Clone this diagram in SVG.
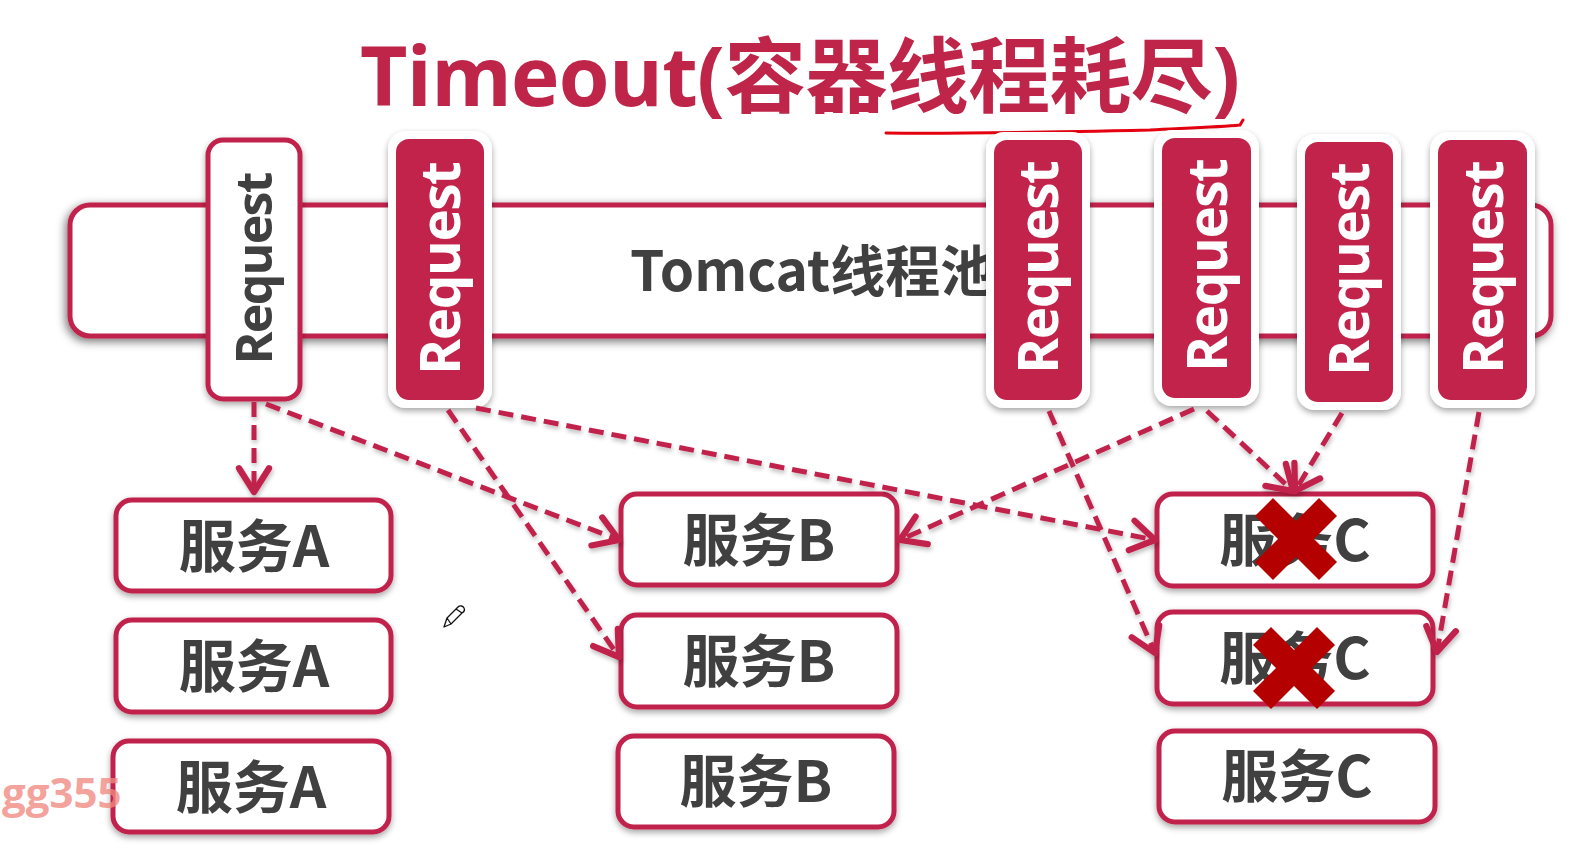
<svg xmlns="http://www.w3.org/2000/svg" width="1574" height="852" viewBox="0 0 1574 852">
<defs>
<filter id="sh" x="-20%" y="-20%" width="140%" height="140%">
<feDropShadow dx="0" dy="3" stdDeviation="3" flood-color="#000" flood-opacity="0.35"/>
</filter>
<filter id="shBig" x="-5%" y="-30%" width="110%" height="160%">
<feDropShadow dx="-2" dy="3" stdDeviation="5" flood-color="#000" flood-opacity="0.55"/>
</filter>
<filter id="shLine" x="-20%" y="-20%" width="140%" height="140%">
<feDropShadow dx="1" dy="3" stdDeviation="2" flood-color="#000" flood-opacity="0.25"/>
</filter>
<marker id="ah" markerUnits="userSpaceOnUse" markerWidth="40" markerHeight="40" viewBox="-24 -16 30 32" refX="0" refY="0" orient="auto">
<path d="M-19,-12 L0,0 L-19,12" fill="none" stroke="#c1234b" stroke-width="5" stroke-linecap="round" stroke-linejoin="round"/>
</marker>
<style>
.title{font-family:"Open Sans","Noto Sans CJK SC",sans-serif;font-weight:700;font-size:82px;fill:#bf2549}
.pool{fill:#fff;stroke:#c1234b;stroke-width:5}
.poolTxt{font-family:"Noto Sans CJK SC",sans-serif;font-weight:700;font-size:55px;fill:#404040}
.reqW{fill:#fff;stroke:#c1234b;stroke-width:5}
.reqOut{fill:#fff}
.reqIn{fill:#c1234b}
.reqTxtD{font-family:"Open Sans","Noto Sans CJK SC",sans-serif;font-weight:700;font-size:50px;fill:#404040}
.reqTxtW{font-family:"Open Sans","Noto Sans CJK SC",sans-serif;font-weight:700;font-size:55px;fill:#fff}
.svc{fill:#fff;stroke:#c1234b;stroke-width:5}
.svcTxt{font-family:"Noto Sans CJK SC",sans-serif;font-weight:700;font-size:57px;fill:#404040;text-anchor:middle}
.con{fill:none;stroke:#c1234b;stroke-width:5;stroke-dasharray:15 8}
.xm{fill:#b50000}
</style>
</defs>
<rect width="1574" height="852" fill="#fff"/>

<g id="title">
<text class="title" x="360" y="106" textLength="880">Timeout(容器线程耗尽)</text>
<path d="M886,133 C960,134 1060,132 1150,130 C1190,128 1220,127 1240,125 L1243,120" fill="none" stroke="#e5000f" stroke-width="3" stroke-linecap="round"/>
</g>

<g id="tomcat-pool">
<rect class="pool" x="70" y="205" width="1481" height="131" rx="20" filter="url(#shBig)"/>
<text class="poolTxt" x="630" y="291">Tomcat线程池</text>
</g>

<g id="request-1">
<rect class="reqW" x="208" y="140" width="92" height="259" rx="15" filter="url(#sh)"/>
<text class="reqTxtD" transform="translate(272,268) rotate(-90)" text-anchor="middle" textLength="193">Request</text>
</g>
<g id="request-2">
<rect class="reqOut" x="388" y="131" width="104" height="277" rx="18" filter="url(#sh)"/>
<rect class="reqIn" x="396" y="139" width="88" height="261" rx="13"/>
<text class="reqTxtW" transform="translate(460,268) rotate(-90)" text-anchor="middle" textLength="214">Request</text>
</g>
<g id="request-3">
<rect class="reqOut" x="986" y="132" width="104" height="276" rx="18" filter="url(#sh)"/>
<rect class="reqIn" x="994" y="140" width="88" height="260" rx="13"/>
<text class="reqTxtW" transform="translate(1058,267) rotate(-90)" text-anchor="middle" textLength="214">Request</text>
</g>
<g id="request-4">
<rect class="reqOut" x="1154" y="130" width="105" height="276" rx="18" filter="url(#sh)"/>
<rect class="reqIn" x="1162" y="138" width="89" height="260" rx="13"/>
<text class="reqTxtW" transform="translate(1227,265) rotate(-90)" text-anchor="middle" textLength="214">Request</text>
</g>
<g id="request-5">
<rect class="reqOut" x="1297" y="134" width="104" height="276" rx="18" filter="url(#sh)"/>
<rect class="reqIn" x="1305" y="142" width="88" height="260" rx="13"/>
<text class="reqTxtW" transform="translate(1369,269) rotate(-90)" text-anchor="middle" textLength="214">Request</text>
</g>
<g id="request-6">
<rect class="reqOut" x="1430" y="132" width="105" height="276" rx="18" filter="url(#sh)"/>
<rect class="reqIn" x="1438" y="140" width="89" height="260" rx="13"/>
<text class="reqTxtW" transform="translate(1503,267) rotate(-90)" text-anchor="middle" textLength="214">Request</text>
</g>

<g id="service-a1"><rect class="svc" x="116" y="500" width="275" height="91" rx="16" filter="url(#sh)"/><text class="svcTxt" x="254" y="567">服务A</text></g>
<g id="service-a2"><rect class="svc" x="116" y="620" width="275" height="92" rx="16" filter="url(#sh)"/><text class="svcTxt" x="254" y="687">服务A</text></g>
<g id="service-a3"><rect class="svc" x="113" y="741" width="276" height="91" rx="16" filter="url(#sh)"/><text class="svcTxt" x="251" y="808">服务A</text></g>
<g id="service-b1"><rect class="svc" x="621" y="494" width="276" height="91" rx="16" filter="url(#sh)"/><text class="svcTxt" x="759" y="561">服务B</text></g>
<g id="service-b2"><rect class="svc" x="621" y="615" width="276" height="92" rx="16" filter="url(#sh)"/><text class="svcTxt" x="759" y="682">服务B</text></g>
<g id="service-b3"><rect class="svc" x="618" y="736" width="276" height="91" rx="16" filter="url(#sh)"/><text class="svcTxt" x="756" y="802">服务B</text></g>
<g id="service-c1"><rect class="svc" x="1157" y="494" width="276" height="92" rx="16" filter="url(#sh)"/><text class="svcTxt" x="1295" y="561">服务C</text></g>
<g id="service-c2"><rect class="svc" x="1157" y="612" width="276" height="92" rx="16" filter="url(#sh)"/><text class="svcTxt" x="1295" y="679">服务C</text></g>
<g id="service-c3"><rect class="svc" x="1159" y="731" width="276" height="91" rx="16" filter="url(#sh)"/><text class="svcTxt" x="1297" y="797">服务C</text></g>

<g id="connectors" filter="url(#shLine)">
<path class="con" d="M254,402 L254,492" marker-end="url(#ah)"/>
<path class="con" d="M266,404 L619,540" marker-end="url(#ah)"/>
<path class="con" d="M448,410 L619,657" marker-end="url(#ah)"/>
<path class="con" d="M476,408 L1155,540" marker-end="url(#ah)"/>
<path class="con" d="M1049,411 L1155,653" marker-end="url(#ah)"/>
<path class="con" d="M1194,409 L900,540" marker-end="url(#ah)"/>
<path class="con" d="M1207,411 L1293,491" marker-end="url(#ah)"/>
<path class="con" d="M1342,413 L1295,491" marker-end="url(#ah)"/>
<path class="con" d="M1479,412 L1437,652" marker-end="url(#ah)"/>
</g>

<g id="fail-marks">
<polygon class="xm" transform="translate(1296,539)" points="-41,-23 -23,-41 0,-18 23,-41 41,-23 18,0 41,23 23,41 0,18 -23,41 -41,23 -18,0"/>
<polygon class="xm" transform="translate(1294,668)" points="-41,-23 -23,-41 0,-18 23,-41 41,-23 18,0 41,23 23,41 0,18 -23,41 -41,23 -18,0"/>
</g>

<g id="pencil">
<path d="M444,627 L447,618 L458,607 C460,605 463,606 464,608 C465,610 464,612 462,613 L451,624 Z M447,618 L451,624 M456,609 L462,613" fill="#fff" stroke="#111" stroke-width="1.3" stroke-linejoin="round"/>
</g>

<g id="watermark">
<text x="2" y="808" font-family="Open Sans, sans-serif" font-weight="700" font-size="42" fill="#f08a80" fill-opacity="0.8">gg355</text>
</g>
</svg>
